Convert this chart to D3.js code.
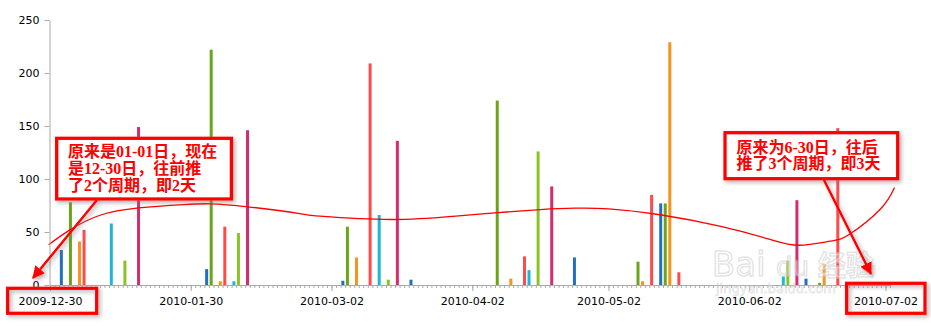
<!DOCTYPE html>
<html><head><meta charset="utf-8">
<script src="https://cdn.jsdelivr.net/npm/d3@7"></script>
<style>body{margin:0;background:#fff}svg{display:block}</style>
</head><body>
<svg id="c" width="931" height="326"></svg>
<script>
// ---- data ----
const domainStart = "2009-12-30";
const domainEnd = "2010-07-03";
const tickLabels = ["2009-12-30","2010-01-30","2010-03-02","2010-04-02","2010-05-02","2010-06-02","2010-07-02"];
const yTicks = [0, 50, 100, 150, 200, 250];
const seriesNames = ["s1","s2","s3","s4","s5","s6","s7"];
const barDates = ["2010-01-01","2010-01-03","2010-01-05","2010-01-06","2010-01-12","2010-01-15","2010-01-18",
  "2010-02-02","2010-02-03","2010-02-05","2010-02-06","2010-02-08","2010-02-09","2010-02-11",
  "2010-03-04","2010-03-05","2010-03-07","2010-03-10","2010-03-12","2010-03-14","2010-03-16","2010-03-19",
  "2010-04-07","2010-04-10","2010-04-13","2010-04-14","2010-04-16","2010-04-19","2010-04-24",
  "2010-05-08","2010-05-09","2010-05-11","2010-05-13","2010-05-14","2010-05-15","2010-05-17",
  "2010-06-09","2010-06-10","2010-06-12","2010-06-14","2010-06-17","2010-06-18","2010-06-21","2010-06-23"];
const barSeries = [0,1,2,3,4,5,6,
  0,1,2,3,4,5,6,
  0,1,2,3,4,5,6,0,
  1,2,3,4,5,6,0,
  1,2,3,0,1,2,3,
  4,5,6,0,1,2,3,0];
const barValues = [33,78,41,52,58,23,149,
  15,222,3.5,55,3.5,49,146,
  4,55,26,209,66,5,136,5,
  174,6,27,14,126,93,26,
  22,3.5,85,77,77,229,12,
  8,23,80,6,2,20,148,1.5];
// trend line (day offset from domain start, value)
const trendDays   = [-0.3, 4.4, 11, 19.5, 29.4, 35.3, 43.5, 55, 59.5, 75, 90, 108, 116, 123, 134, 147.5, 158.6, 165, 171.8, 176, 182.8, 186];
const trendValues = [38, 52, 65.8, 72.8, 75.9, 76.6, 73.8, 67.4, 65, 61.8, 65.3, 71.2, 72.5, 71.9, 66.5, 55.5, 43, 37.5, 41.3, 47.6, 71.2, 92];
const noteLeft = ["原来是01-01日，现在", "是12-30日，往前推", "了2个周期，即2天"];
const noteRight = ["原来为6-30日，往后", "推了3个周期，即3天"];

// ---- style ----
const seriesColors = ["#1f6fc5","#6aa519","#f7941d","#ff4a4a","#1fb5d5","#88c425","#d62b6d"];
const axisColor = "#aaaaaa";
const svg = d3.select("#c");
const parse = d3.utcParse("%Y-%m-%d");
const fmt = d3.utcFormat("%Y-%m-%d");
const x0 = parse(domainStart);
const x = d3.scaleUtc().domain([x0, parse(domainEnd)]).range([50, 890]);
const y = d3.scaleLinear().domain([0, 250]).range([285, 20]);
const dayW = x(d3.utcDay.offset(x0, 1)) - x(x0);

const defs = svg.append("defs");
const f = defs.append("filter").attr("id","sh").attr("x","-20%").attr("y","-30%").attr("width","150%").attr("height","170%");
f.append("feDropShadow").attr("dx",2).attr("dy",2).attr("stdDeviation",2).attr("flood-color","#777").attr("flood-opacity",0.6);
defs.append("marker").attr("id","ah").attr("viewBox","0 0 10 10").attr("refX",9).attr("refY",5)
  .attr("markerWidth",5).attr("markerHeight",5).attr("orient","auto").attr("markerUnits","strokeWidth")
  .append("path").attr("d","M0,0L10,5L0,10z").attr("fill","#f00");

// bars
const bars = barDates.map((d,i)=>({date: parse(d), s: barSeries[i], v: barValues[i]}));
svg.append("g").selectAll("rect").data(bars).join("rect")
  .attr("x", d => x(d.date) + dayW/2 - 1.5)
  .attr("width", 3)
  .attr("y", d => y(d.v))
  .attr("height", d => y(0) - y(d.v))
  .attr("fill", d => seriesColors[d.s]);

// trend curve
const trend = trendDays.map((d,i)=>({t: new Date(x0.getTime() + d*864e5), v: trendValues[i]}));
svg.append("path").datum(trend)
  .attr("d", d3.line().x(d=>x(d.t)).y(d=>y(d.v)).curve(d3.curveNatural))
  .attr("fill","none").attr("stroke","#f00").attr("stroke-width",1.3);

// axes
const font = "DejaVu Sans, Verdana, sans-serif";
const gxMinor = svg.append("g").attr("transform","translate(0,285)")
  .call(d3.axisBottom(x).ticks(d3.utcDay.every(1)).tickSize(3).tickSizeOuter(0).tickFormat(""));
const gx = svg.append("g").attr("transform","translate(0,285)")
  .call(d3.axisBottom(x).tickValues(tickLabels.map(parse)).tickSize(6).tickSizeOuter(0).tickPadding(6).tickFormat(fmt));
const gy = svg.append("g").attr("transform","translate(49.5,0)")
  .call(d3.axisLeft(y).tickValues(yTicks).tickSize(5).tickSizeOuter(0).tickPadding(5));
[gxMinor, gx, gy].forEach(g=>{
  g.selectAll("path,line").attr("stroke", axisColor);
  g.selectAll("text").attr("fill","#000").style("font-family",font).style("font-size","11px");
});
gx.select(".domain").remove();

// watermark
const wm = svg.append("g").attr("opacity",0.55);
wm.append("text").attr("x",712).attr("y",276).text("Bai")
  .style("font-family","DejaVu Sans, sans-serif").style("font-size","34px").attr("fill","#fff").attr("stroke","#cfcfcf").attr("stroke-width",1.5);
wm.append("text").attr("x",776).attr("y",276).text("du")
  .style("font-family","DejaVu Sans, sans-serif").style("font-size","26px").attr("fill","#fff").attr("stroke","#cfcfcf").attr("stroke-width",1.5);
wm.append("text").attr("x",818).attr("y",276).text("经验")
  .style("font-family","Noto Sans CJK SC, sans-serif").style("font-size","28px").style("font-weight","bold").attr("fill","#fff").attr("stroke","#cfcfcf").attr("stroke-width",1.5);
wm.append("text").attr("x",716).attr("y",293).text("jingyan.baidu.com")
  .style("font-family","DejaVu Sans, sans-serif").style("font-size","13px").attr("fill","#fff").attr("stroke","#d6d6d6").attr("stroke-width",1);

// annotation boxes
const noteFont = "Liberation Serif, Noto Sans CJK SC, serif";
function box(xx, yy, w, h, fill){
  svg.append("rect").attr("x",xx).attr("y",yy).attr("width",w).attr("height",h)
    .attr("fill",fill).attr("stroke","#f00").attr("stroke-width",3.3).attr("filter","url(#sh)");
}
function arrow(x1,y1,x2,y2){
  svg.append("line").attr("x1",x1).attr("y1",y1).attr("x2",x2).attr("y2",y2)
    .attr("stroke","#f00").attr("stroke-width",2.5).attr("marker-end","url(#ah)").attr("filter","url(#sh)");
}
box(56.7,138.3,174.7,60.7,"#fff");
svg.append("g").selectAll("text").data(noteLeft).join("text")
  .attr("x",68).attr("y",(d,i)=>157+i*17.2).text(d=>d)
  .attr("fill","#f00").style("font-family",noteFont).style("font-size","16px").style("font-weight","bold");
box(725,132.7,172.7,46,"#fff");
svg.append("g").selectAll("text").data(noteRight).join("text")
  .attr("x",736.5).attr("y",(d,i)=>152.5+i*16.5).text(d=>d)
  .attr("fill","#f00").style("font-family",noteFont).style("font-size","16px").style("font-weight","bold");
box(7.7,288.3,89,25,"none");
box(846.7,283.3,78.3,30,"none");
arrow(97,200,33,278);
arrow(823,178,871,274);
</script>
</body></html>
